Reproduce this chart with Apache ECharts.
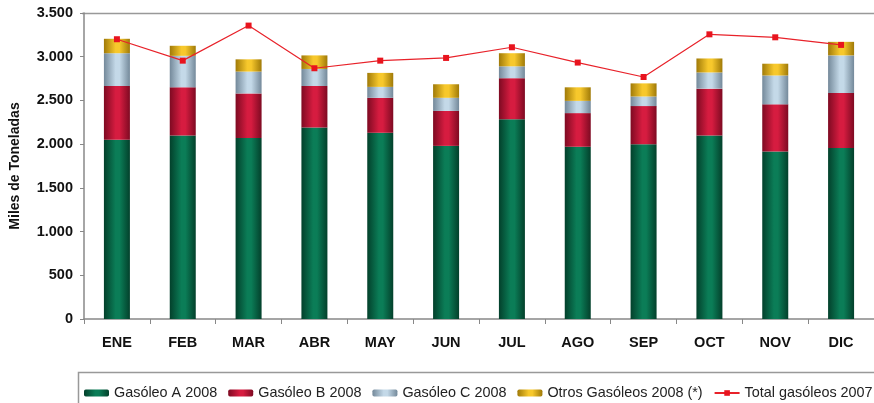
<!DOCTYPE html>
<html>
<head>
<meta charset="utf-8">
<script src="https://cdn.jsdelivr.net/npm/echarts@6/dist/echarts.min.js"></script>
<style>
html,body{margin:0;padding:0;background:#fff;}
#c{width:874px;height:403px;}
</style>
</head>
<body>
<div id="c"></div>
<script>
const months = ['ENE','FEB','MAR','ABR','MAY','JUN','JUL','AGO','SEP','OCT','NOV','DIC'];
const gasoleoA = [2050, 2100, 2070, 2190, 2130, 1980, 2285, 1970, 2000, 2100, 1915, 1955];
const gasoleoB = [615, 550, 510, 475, 400, 400, 470, 385, 435, 535, 540, 630];
const gasoleoC = [375, 360, 250, 195, 125, 150, 135, 140, 110, 185, 330, 430];
const otros = [165, 115, 140, 155, 160, 155, 150, 155, 150, 160, 135, 155];
const total2007 = [3200, 2955, 3356, 2868, 2955, 2986, 3108, 2933, 2768, 3256, 3222, 3135];
const seriesNames = ['Gasóleo A 2008','Gasóleo B 2008','Gasóleo C 2008','Otros Gasóleos 2008 (*)','Total gasóleos 2007'];
const yTicks = ['0','500','1.000','1.500','2.000','2.500','3.000','3.500'];

function grad(edge, mid){
  return new echarts.graphic.LinearGradient(0,0,1,0,[
    {offset:0,color:edge},{offset:0.45,color:mid},{offset:0.6,color:mid},{offset:1,color:edge}
  ]);
}
const chart = echarts.init(document.getElementById('c'));
const font = 'Arial, "Liberation Sans", sans-serif';
function bar(name, data, edge, mid){
  return {name:name,type:'bar',stack:'t',data:data,barWidth:26,
    itemStyle:{color:grad(edge,mid)},emphasis:{disabled:true}};
}
chart.setOption({
  animation:false,
  grid:{left:82.5,top:13,width:802,bottom:84,containLabel:false},
  xAxis:{type:'category',data:months,
    axisLine:{lineStyle:{color:'#888',width:1.5}},
    axisTick:{show:true,length:5,lineStyle:{color:'#888'}},
    axisLabel:{color:'#111',fontWeight:'bold',fontSize:14.5,fontFamily:font,margin:16}},
  yAxis:{type:'value',min:0,max:3500,interval:500,
    name:'Miles de Toneladas',nameLocation:'middle',nameGap:62,nameRotate:90,
    nameTextStyle:{color:'#111',fontWeight:'bold',fontSize:14,fontFamily:font},
    axisLine:{show:true,lineStyle:{color:'#888',width:1.5}},
    axisTick:{show:true,length:4,lineStyle:{color:'#888'}},
    splitLine:{show:false},
    axisLabel:{color:'#111',fontWeight:'bold',fontSize:14.5,fontFamily:font,margin:11,
      formatter:function(v){return yTicks[Math.round(v/500)];}}},
  legend:{left:79,top:381,width:1200,itemWidth:25,itemHeight:7,itemGap:11,
    textStyle:{color:'#222',fontSize:14.4,fontFamily:font},
    data:seriesNames},
  graphic:[
    {type:'line',shape:{x1:82,y1:13.5,x2:874,y2:13.5},style:{stroke:'#999',lineWidth:1.5},silent:true},
    {type:'rect',shape:{x:78.5,y:372.5,width:820,height:40},style:{fill:'none',stroke:'#999',lineWidth:1.5},silent:true}
  ],
  series:[
    bar(seriesNames[0],gasoleoA,'#03402b','#0b7d57'),
    bar(seriesNames[1],gasoleoB,'#7e0a22','#d61c40'),
    bar(seriesNames[2],gasoleoC,'#74899a','#c4d9e8'),
    bar(seriesNames[3],otros,'#a07a08','#f7c82c'),
    {name:seriesNames[4],type:'line',data:total2007,
      lineStyle:{color:'#e8222a',width:1.2},
      itemStyle:{color:'#e8141e'},
      symbol:'rect',symbolSize:6,z:5,emphasis:{disabled:true}}
  ]
});
</script>
</body>
</html>
